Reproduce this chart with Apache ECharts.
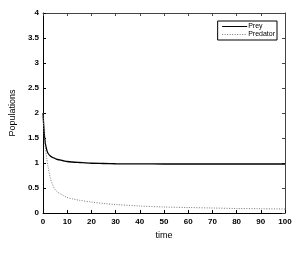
<!DOCTYPE html>
<html><head><meta charset="utf-8">
<script src="https://cdn.jsdelivr.net/npm/echarts@6/dist/echarts.min.js"></script>
<style>html,body{margin:0;padding:0;background:#fff}#c{width:300px;height:255px}</style>
</head><body><div id="c"></div>
<script>
var time = [0,0.5,1,1.5,2,3,4,5,6,8,10,12,15,20,25,30,40,50,60,70,80,90,100];
var prey = [2.0,1.6,1.38,1.27,1.2,1.14,1.11,1.09,1.07,1.05,1.03,1.02,1.01,0.995,0.99,0.985,0.982,0.98,0.98,0.98,0.98,0.98,0.98];
var predator = [2.0,1.55,1.28,1.1,0.95,0.7,0.56,0.47,0.42,0.36,0.31,0.285,0.255,0.22,0.19,0.17,0.14,0.12,0.11,0.1,0.09,0.085,0.08];
var xTicks = {min:0, max:100, interval:10};
var yTicks = {min:0, max:4, interval:0.5};

function pairs(xs, ys){ return xs.map(function(x,i){return [x, ys[i]];}); }
var font = {fontFamily:'Liberation Sans, Arial, sans-serif', fontSize:8, color:'#000', fontWeight:'bold'};
var chart = echarts.init(document.getElementById('c'), null, {renderer:'canvas'});
chart.setOption({
  animation:false,
  backgroundColor:'#fff',
  grid:{left:32, right:15, top:13, bottom:42, containLabel:false},
  legend:{
    orient:'vertical', right:23, top:21, itemWidth:25, itemHeight:8, itemGap:1,
    padding:[2,2,2,4], borderColor:'#000', borderWidth:1, backgroundColor:'#fff',
    itemStyle:{opacity:0},
    lineStyle:{width:1},
    textStyle:{fontFamily:'Liberation Sans, Arial, sans-serif', fontSize:7, color:'#000', padding:[0,0,0,-4]},
    data:['Prey','Predator']
  },
  xAxis:[{
    type:'value', min:xTicks.min, max:xTicks.max, interval:xTicks.interval,
    name:'time', nameLocation:'middle', nameGap:18,
    nameTextStyle:{fontFamily:'Liberation Sans, Arial, sans-serif', fontSize:9, color:'#000'},
    axisLine:{show:true, onZero:false, lineStyle:{color:'#000', width:1}},
    axisTick:{show:true, inside:true, length:3, lineStyle:{color:'#000'}},
    axisLabel:Object.assign({margin:5}, font),
    splitLine:{show:false}
  },{
    type:'value', position:'top', min:xTicks.min, max:xTicks.max, interval:xTicks.interval,
    axisLine:{show:true, onZero:false, lineStyle:{color:'#444', width:1}},
    axisTick:{show:true, inside:true, length:3, lineStyle:{color:'#444'}},
    axisLabel:{show:false}, splitLine:{show:false}
  }],
  yAxis:[{
    type:'value', min:yTicks.min, max:yTicks.max, interval:yTicks.interval,
    name:'Populations', nameLocation:'middle', nameGap:21,
    nameTextStyle:{fontFamily:'Liberation Sans, Arial, sans-serif', fontSize:9, color:'#000'},
    axisLine:{show:true, onZero:false, lineStyle:{color:'#000', width:1}},
    axisTick:{show:true, inside:true, length:3, lineStyle:{color:'#000'}},
    axisLabel:Object.assign({margin:4}, font),
    splitLine:{show:false}
  },{
    type:'value', position:'right', min:yTicks.min, max:yTicks.max, interval:yTicks.interval,
    axisLine:{show:true, onZero:false, lineStyle:{color:'#444', width:1}},
    axisTick:{show:true, inside:true, length:3, lineStyle:{color:'#444'}},
    axisLabel:{show:false}, splitLine:{show:false}
  }],
  series:[{
    name:'Prey', type:'line', smooth:0.3, symbol:'none', xAxisIndex:0, yAxisIndex:0,
    data:pairs(time, prey),
    lineStyle:{color:'#000', width:1.3}, itemStyle:{color:'#000'}
  },{
    name:'Predator', type:'line', smooth:0.3, symbol:'none', xAxisIndex:0, yAxisIndex:0,
    data:pairs(time, predator),
    lineStyle:{color:'#777', width:1, type:[1,1.5]}, itemStyle:{color:'#777'}
  }]
});
</script></body></html>
